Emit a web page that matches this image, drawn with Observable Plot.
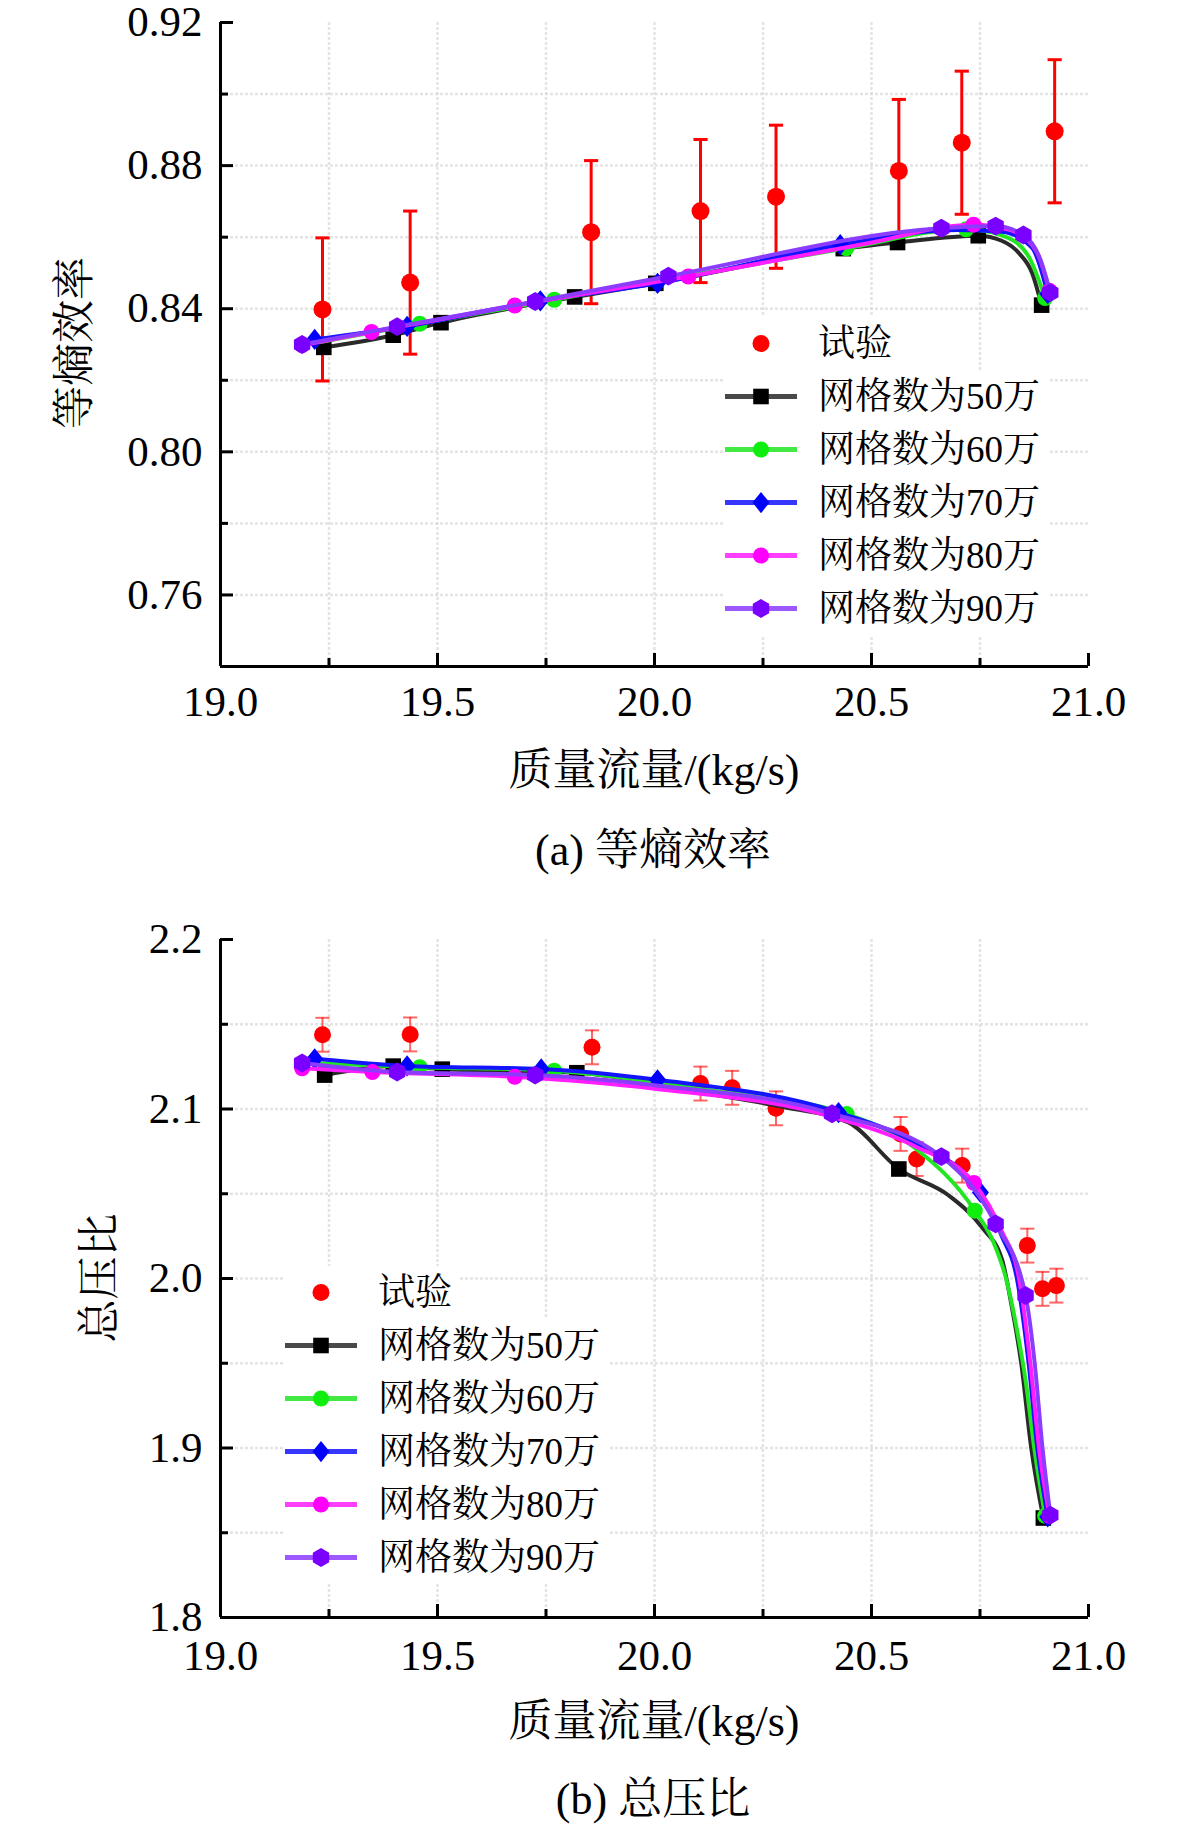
<!DOCTYPE html>
<html><head><meta charset="utf-8">
<script src="https://cdn.jsdelivr.net/npm/d3@7"></script>
<script src="https://cdn.jsdelivr.net/npm/@observablehq/plot@0.6"></script>
<style>
body{margin:0;background:#fff;}
#wrap{position:relative;width:1181px;height:1828px;font-family:"Liberation Serif","Times New Roman","Noto Serif CJK SC","Noto Sans CJK SC",serif;color:#000;overflow:hidden;}
#wrap svg text{font-family:"Liberation Serif","Times New Roman","DejaVu Serif",serif !important;}
.chart{position:absolute;left:0;}
.lbl{position:absolute;white-space:nowrap;transform:translate(-50%,-50%);line-height:1;font-size:44px;}
.ylbl{position:absolute;white-space:nowrap;transform:translate(-50%,-50%) rotate(-90deg);line-height:1;font-size:43px;}
.legend{position:absolute;}
.row{display:flex;align-items:center;height:53px;background:#fff;width:fit-content;}
.row svg{display:block;flex:none;}
.row span{font-size:37px;line-height:1;margin-left:21px;padding-right:8px;white-space:nowrap;}
</style></head><body><div id="wrap"></div>
<script>
// ---------- shared ----------
const xMajor = [19.0, 19.5, 20.0, 20.5, 21.0];
const xMinor = [19.25, 19.75, 20.25, 20.75];
const xDomain = [19, 21];
const expName = "试验";
const seriesNames = ["网格数为50万", "网格数为60万", "网格数为70万", "网格数为80万", "网格数为90万"];
const xLabel = "质量流量/(kg/s)";

// ---------- (a) 等熵效率 ----------
const aYDomain = [0.74, 0.92];
const aYMajor = [0.76, 0.80, 0.84, 0.88, 0.92];
const aYMinor = [0.78, 0.82, 0.86, 0.90];
const aYGrid = [0.76, 0.78, 0.80, 0.82, 0.84, 0.86, 0.88, 0.90];
const aTitle = "等熵效率";
const aCaption = "(a) 等熵效率";

const aExpX = [19.235, 19.437, 19.854, 20.106, 20.280, 20.563, 20.708, 20.922];
const aExpY = [0.8398, 0.8473, 0.8614, 0.8673, 0.8713, 0.8785, 0.8864, 0.8896];
const aExpErr = [0.02, 0.02, 0.02, 0.02, 0.02, 0.02, 0.02, 0.02];

const a50x = [19.238, 19.398, 19.508, 19.816, 20.003, 20.435, 20.560, 20.746, 20.800, 20.840, 20.870, 20.892];
const a50y = [0.8292, 0.8326, 0.8361, 0.8433, 0.8471, 0.8568, 0.8585, 0.8604, 0.8590, 0.8555, 0.8500, 0.8410];
const a50m = [0, 1, 2, 3, 4, 5, 6, 7, 11];
const a60x = [19.220, 19.459, 19.769, 20.040, 20.442, 20.718, 20.800, 20.860, 20.900];
const a60y = [0.8305, 0.8358, 0.8425, 0.8485, 0.8569, 0.8622, 0.8605, 0.8550, 0.8430];
const a60m = [1, 2, 4, 5, 8];
const a70x = [19.217, 19.430, 19.737, 20.007, 20.428, 20.700, 20.800, 20.870, 20.906];
const a70y = [0.8314, 0.8351, 0.8422, 0.8471, 0.8579, 0.8620, 0.8615, 0.8570, 0.8442];
const a70m = [0, 1, 2, 3, 4, 8];
const a80x = [19.188, 19.348, 19.678, 20.078, 20.480, 20.735, 20.820, 20.880, 20.910];
const a80y = [0.8298, 0.8335, 0.8409, 0.8490, 0.8580, 0.8635, 0.8620, 0.8560, 0.8450];
const a80m = [0, 1, 2, 3, 5, 8];
const a90x = [19.188, 19.407, 19.725, 20.032, 20.661, 20.786, 20.850, 20.890, 20.912];
const a90y = [0.8300, 0.8350, 0.8420, 0.8491, 0.8625, 0.8631, 0.8606, 0.8535, 0.8445];
const a90m = [0, 1, 2, 3, 4, 5, 6, 8];

// ---------- (b) 总压比 ----------
const bYDomain = [1.8, 2.2];
const bYMajor = [1.8, 1.9, 2.0, 2.1, 2.2];
const bYMinor = [1.85, 1.95, 2.05, 2.15];
const bYGrid = [1.85, 1.90, 1.95, 2.00, 2.05, 2.10, 2.15];
const bTitle = "总压比";
const bCaption = "(b) 总压比";

const bExpX = [19.235, 19.437, 19.856, 20.106, 20.179, 20.280, 20.567, 20.604, 20.709, 20.859, 20.894, 20.926];
const bExpY = [2.1438, 2.1440, 2.1364, 2.1150, 2.1125, 2.1004, 2.0853, 2.0705, 2.0666, 2.0194, 1.9939, 1.9958];
const bExpErr = [0.01, 0.01, 0.01, 0.01, 0.01, 0.01, 0.01, 0.01, 0.01, 0.01, 0.01, 0.01];

const b50x = [19.240, 19.398, 19.511, 19.821, 20.100, 20.300, 20.447, 20.563, 20.678, 20.755, 20.801, 20.822, 20.845, 20.868, 20.896];
const b50y = [2.1200, 2.1253, 2.1235, 2.1214, 2.1100, 2.1010, 2.0920, 2.0646, 2.0490, 2.0300, 2.0110, 1.9850, 1.9500, 1.9000, 1.8587];
const b50m = [0, 1, 2, 3, 7, 14];
const b60x = [19.220, 19.459, 19.769, 20.100, 20.443, 20.600, 20.738, 20.780, 20.810, 20.835, 20.855, 20.875, 20.900];
const b60y = [2.1270, 2.1247, 2.1226, 2.1120, 2.0970, 2.0770, 2.0400, 2.0220, 2.0000, 1.9700, 1.9400, 1.9000, 1.8600];
const b60m = [1, 2, 4, 6, 12];
const b70x = [19.217, 19.430, 19.739, 20.007, 20.424, 20.600, 20.751, 20.800, 20.835, 20.862, 20.882, 20.906];
const b70y = [2.1296, 2.1254, 2.1236, 2.1172, 2.0979, 2.0800, 2.0508, 2.0250, 2.0000, 1.9500, 1.9000, 1.8594];
const b70m = [0, 1, 2, 3, 4, 6, 11];
const b80x = [19.188, 19.350, 19.678, 20.000, 20.400, 20.600, 20.736, 20.800, 20.840, 20.866, 20.886, 20.910];
const b80y = [2.1240, 2.1218, 2.1190, 2.1120, 2.0960, 2.0780, 2.0564, 2.0280, 2.0000, 1.9500, 1.9000, 1.8600];
const b80m = [0, 1, 2, 6, 11];
const b90x = [19.188, 19.407, 19.725, 20.000, 20.409, 20.661, 20.786, 20.855, 20.876, 20.894, 20.912];
const b90y = [2.1271, 2.1218, 2.1200, 2.1140, 2.0972, 2.0719, 2.0322, 1.9900, 1.9500, 1.9000, 1.8604];
const b90m = [0, 1, 2, 4, 5, 6, 7, 10];

// ---------- styles ----------
const lineColors = ["#2a2a2a", "#22e622", "#1414ff", "#ff1eff", "#8c3cff"];
const markColors = ["#000000", "#10ee10", "#0000ff", "#ff00ff", "#7a00ff"];
const red = "#ff0000";

// custom symbols
const symDiamond = {draw(ctx, size) { const s = Math.sqrt(size / Math.PI); ctx.moveTo(0, -1.25 * s); ctx.lineTo(s, 0); ctx.lineTo(0, 1.25 * s); ctx.lineTo(-s, 0); ctx.closePath(); }};
const symHex = {draw(ctx, size) { const s = Math.sqrt(size / Math.PI) * 1.05; for (let i = 0; i < 6; i++) { const a = -Math.PI / 2 + i * Math.PI / 3; const px = s * Math.cos(a), py = s * Math.sin(a); if (i === 0) ctx.moveTo(px, py); else ctx.lineTo(px, py); } ctx.closePath(); }};
const symCap = {draw(ctx, size) { const w = Math.sqrt(size) / 2; ctx.moveTo(-w, 0); ctx.lineTo(w, 0); }};
const symbols = ["square", "circle", symDiamond, "circle", symHex];
const symR = [8.8, 8, 8.5, 8, 9];

const fontStack = '"Liberation Serif","Times New Roman","DejaVu Serif",serif';

function build({yDomain, yMajor, yMinor, yGrid, yFmt, exp, sims, height, marginTop, marginBottom, errStyle, expR, xPad}) {
  const expData = exp.x.map((x, i) => ({x, y: exp.y[i], lo: exp.y[i] - exp.e[i], hi: exp.y[i] + exp.e[i]}));
  const capData = expData.flatMap(d => [{x: d.x, y: d.lo}, {x: d.x, y: d.hi}]);
  const marks = [
    Plot.gridX({ticks: [...xMinor, 19.5, 20.0, 20.5], stroke: "#d8d8d8", strokeOpacity: 0.7, strokeWidth: 2.5, strokeDasharray: "3,2"}),
    Plot.gridY({ticks: yGrid, stroke: "#d8d8d8", strokeOpacity: 0.7, strokeWidth: 2.5, strokeDasharray: "3,2"}),
    // experiment
    Plot.ruleX(expData, {x: "x", y1: "lo", y2: "hi", stroke: red, strokeWidth: errStyle.w, strokeOpacity: errStyle.op}),
    Plot.dot(capData, {x: "x", y: "y", symbol: symCap, r: 8, stroke: red, fill: "none", strokeWidth: errStyle.w, strokeOpacity: errStyle.op}),
    Plot.dot(expData, {x: "x", y: "y", r: expR, fill: red, stroke: "none"})
  ];
  sims.forEach((s, i) => {
    const pts = s.x.map((x, j) => ({x, y: s.y[j]}));
    marks.push(Plot.line(pts, {x: "x", y: "y", stroke: lineColors[i], strokeWidth: 4, curve: "monotone-x"}));
    marks.push(Plot.dot(s.m.map(j => pts[j]), {x: "x", y: "y", symbol: symbols[i], r: symR[i], fill: markColors[i], stroke: "none"}));
  });
  marks.push(
    Plot.ruleX([xDomain[0]], {stroke: "#000", strokeWidth: 3}),
    Plot.ruleY([yDomain[0]], {stroke: "#000", strokeWidth: 3}),
    Plot.axisX({ticks: xMajor, tickSize: 13, dy: -13, fill: "none", strokeWidth: 3, label: null}),
    Plot.axisX({ticks: xMinor, tickSize: 8, dy: -8, fill: "none", strokeWidth: 3, label: null}),
    Plot.axisY({ticks: yMajor, tickSize: 13, dx: 13, fill: "none", strokeWidth: 3, label: null}),
    Plot.axisY({ticks: yMinor, tickSize: 8, dx: 8, fill: "none", strokeWidth: 3, label: null}),
    Plot.axisX({ticks: xMajor, tickSize: 0, tickPadding: xPad, tickFormat: d3.format(".1f"), label: null, fontFamily: fontStack}),
    Plot.axisY({ticks: yMajor, tickSize: 0, tickPadding: 18, tickFormat: d3.format(yFmt), label: null, fontFamily: fontStack})
  );
  return Plot.plot({
    width: 1181, height, marginLeft: 220, marginRight: 93, marginTop, marginBottom,
    x: {domain: xDomain}, y: {domain: yDomain},
    style: {fontFamily: fontStack, fontSize: "43px", color: "#000", background: "transparent", overflow: "visible"},
    marks
  });
}

const wrap = document.getElementById("wrap");

const chartA = build({
  yDomain: aYDomain, yMajor: aYMajor, yMinor: aYMinor, yGrid: aYGrid, yFmt: ".2f",
  exp: {x: aExpX, y: aExpY, e: aExpErr},
  sims: [{x: a50x, y: a50y, m: a50m}, {x: a60x, y: a60y, m: a60m}, {x: a70x, y: a70y, m: a70m}, {x: a80x, y: a80y, m: a80m}, {x: a90x, y: a90y, m: a90m}],
  height: 730, marginTop: 22, marginBottom: 64, errStyle: {w: 3, op: 1}, expR: 9, xPad: 19
});
chartA.classList.add("chart"); chartA.style.top = "0px";
wrap.appendChild(chartA);

const chartB = build({
  yDomain: bYDomain, yMajor: bYMajor, yMinor: bYMinor, yGrid: bYGrid, yFmt: ".1f",
  exp: {x: bExpX, y: bExpY, e: bExpErr},
  sims: [{x: b50x, y: b50y, m: b50m}, {x: b60x, y: b60y, m: b60m}, {x: b70x, y: b70y, m: b70m}, {x: b80x, y: b80y, m: b80m}, {x: b90x, y: b90y, m: b90m}],
  height: 787, marginTop: 49, marginBottom: 60, errStyle: {w: 2, op: 0.6}, expR: 8.5, xPad: 22
});
chartB.classList.add("chart"); chartB.style.top = "890px";
wrap.appendChild(chartB);

// ---------- text labels ----------
function addText(cls, txt, x, y) {
  const d = document.createElement("div");
  d.className = cls; d.textContent = txt;
  d.style.left = x + "px"; d.style.top = y + "px";
  wrap.appendChild(d);
}
addText("ylbl", aTitle, 74, 343);
addText("lbl", xLabel, 654, 771);
addText("lbl", aCaption, 653, 851);
addText("ylbl", bTitle, 99, 1278);
addText("lbl", xLabel, 654, 1722);
addText("lbl", bCaption, 653, 1800);

// ---------- legends ----------
function swatch(i) {
  const ns = "http://www.w3.org/2000/svg";
  const svg = document.createElementNS(ns, "svg");
  svg.setAttribute("width", 72); svg.setAttribute("height", 53);
  if (i < 0) {
    const c = document.createElementNS(ns, "circle");
    c.setAttribute("cx", 36); c.setAttribute("cy", 26.5); c.setAttribute("r", 8.5); c.setAttribute("fill", red);
    svg.appendChild(c);
  } else {
    const l = document.createElementNS(ns, "line");
    l.setAttribute("x1", 0); l.setAttribute("x2", 72); l.setAttribute("y1", 26.5); l.setAttribute("y2", 26.5);
    l.setAttribute("stroke", lineColors[i]); l.setAttribute("stroke-width", 5); l.setAttribute("opacity", 0.85);
    svg.appendChild(l);
    const sym = symbols[i];
    const type = sym === "square" ? d3.symbolSquare : sym === "circle" ? d3.symbolCircle : sym;
    const p = document.createElementNS(ns, "path");
    p.setAttribute("d", d3.symbol(type, Math.PI * symR[i] * symR[i])());
    p.setAttribute("transform", "translate(36,26.5)");
    p.setAttribute("fill", markColors[i]);
    svg.appendChild(p);
  }
  return svg;
}
function legend(left, top) {
  const box = document.createElement("div");
  box.className = "legend"; box.style.left = left + "px"; box.style.top = top + "px";
  [expName, ...seriesNames].forEach((name, k) => {
    const row = document.createElement("div"); row.className = "row";
    row.appendChild(swatch(k - 1));
    const sp = document.createElement("span"); sp.textContent = name;
    row.appendChild(sp);
    box.appendChild(row);
  });
  wrap.appendChild(box);
}
legend(725, 317);
legend(285, 1266);
</script></body></html>
